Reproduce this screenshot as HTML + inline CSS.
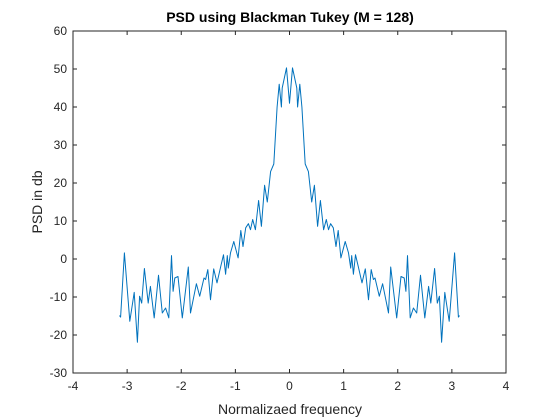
<!DOCTYPE html>
<html><head><meta charset="utf-8"><style>
body{margin:0;background:#fff;}
svg{display:block;font-family:"Liberation Sans",Arial,sans-serif;}
</style></head><body>
<svg id="chart" width="560" height="420">
<rect width="560" height="420" fill="#fff"/>
<text x="290" y="22" text-anchor="middle" font-size="14" font-weight="bold" fill="#000">PSD using Blackman Tukey (M = 128)</text>
<text x="290" y="414" text-anchor="middle" font-size="14" fill="#262626">Normalizaed frequency</text>
<text transform="translate(42,202) rotate(-90)" text-anchor="middle" font-size="14" fill="#262626">PSD in db</text>
<g id="axes"></g>
</svg>
<script>
const xTicks=[-4,-3,-2,-1,0,1,2,3,4];
const yTicks=[-30,-20,-10,0,10,20,30,40,50,60];
const halfFreq=[0,0.055,0.135,0.15,0.19,0.23,0.29,0.35,0.41,0.46,0.52,0.57,0.63,0.68,0.72,0.76,0.81,0.86,0.9,0.95,1.03,1.09,1.13,1.15,1.18,1.22,1.27,1.34,1.4,1.46,1.51,1.55,1.58,1.66,1.72,1.83,1.87,1.98,2.06,2.12,2.15,2.18,2.23,2.29,2.35,2.42,2.5,2.57,2.61,2.68,2.73,2.77,2.81,2.87,2.95,3.05,3.12,3.14];
const halfPsd=[41,50.3,45,40,46,40,25,23,15,19.4,8.6,15.4,7.7,10.4,7.7,9.3,8.2,3.3,7.5,0.3,4.6,1.6,-2.4,0.9,-4,1.1,-1.9,-6.3,-2.6,-10.7,-2.8,-5.4,-5,-9.8,-6.5,-14.2,-2.1,-15.5,-4.6,-5,-8.5,0.9,-15.5,-12.9,-14.2,-4.3,-15.5,-7.2,-11.6,-2.5,-11.6,-9.8,-21.9,-8.8,-16.4,1.6,-15.3,-14.9];
const L=73,R=506,T=31,B=373;
const sx=v=>L+(v+4)/8*(R-L);
const sy=v=>B-(v+30)/90*(B-T);
const NS="http://www.w3.org/2000/svg";
const g=document.getElementById('axes');
function mk(t,a){const e=document.createElementNS(NS,t);for(const k in a)e.setAttribute(k,a[k]);g.appendChild(e);return e;}
const box=mk('rect',{x:L,y:T,width:R-L,height:B-T,fill:'none',stroke:'#262626','stroke-width':1});


xTicks.forEach(v=>{
  const x=sx(v);
  mk('line',{x1:x,x2:x,y1:B,y2:B-4,stroke:'#262626'});
  mk('line',{x1:x,x2:x,y1:T,y2:T+4,stroke:'#262626'});
  const t=mk('text',{x:x,y:B+17,'text-anchor':'middle','font-size':12,fill:'#262626'});
  t.textContent=v;
  
  
});
yTicks.forEach(v=>{
  const y=sy(v);
  mk('line',{x1:L,x2:L+4,y1:y,y2:y,stroke:'#262626'});
  mk('line',{x1:R,x2:R-4,y1:y,y2:y,stroke:'#262626'});
  const t=mk('text',{x:L-6,y:y+4,'text-anchor':'end','font-size':12,fill:'#262626'});
  t.textContent=v;
  
  
});
const pts=[];
for(let i=halfFreq.length-1;i>0;i--)pts.push([-halfFreq[i],halfPsd[i]]);
for(let i=0;i<halfFreq.length;i++)pts.push([halfFreq[i],halfPsd[i]]);
const line=mk('polyline',{points:pts.map(p=>sx(p[0]).toFixed(1)+','+sy(p[1]).toFixed(1)).join(' '),fill:'none',stroke:'#0072BD','stroke-width':1,'stroke-linejoin':'round'});


</script>
</body></html>
